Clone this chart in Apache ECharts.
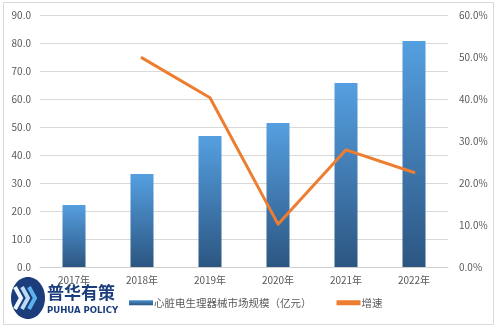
<!DOCTYPE html>
<html>
<head>
<meta charset="utf-8">
<script src="https://cdn.jsdelivr.net/npm/echarts@6/dist/echarts.min.js"></script>
<style>html,body{margin:0;padding:0;background:#fff;}#c{width:498px;height:328px;}</style>
</head>
<body>
<div id="c"></div>
<script>
var categories = ['2017年', '2018年', '2019年', '2020年', '2021年', '2022年'];
var marketSize = [22.1, 33.2, 46.8, 51.4, 65.7, 80.7];
var growth = [null, 49.8, 40.3, 10.2, 27.9, 22.5];
var leftTicks = { min: 0, max: 90, interval: 10 };
var rightTicks = { min: 0, max: 60, interval: 10 };
var seriesNames = ['心脏电生理器械市场规模（亿元）', '增速'];

var chart = echarts.init(document.getElementById('c'), null, { renderer: 'canvas' });
var font = '"Microsoft YaHei","Noto Sans CJK SC","DejaVu Sans",sans-serif';
var barGrad = new echarts.graphic.LinearGradient(0, 0, 0, 1, [
  { offset: 0, color: '#559fe0' },
  { offset: 1, color: '#2c5682' }
]);
var legendGrad = new echarts.graphic.LinearGradient(0, 0, 0, 1, [
  { offset: 0, color: '#4a8fd0' },
  { offset: 1, color: '#2c5682' }
]);

chart.setOption({
  animation: false,
  textStyle: { fontFamily: font },
  grid: { left: 40, right: 50, top: 15, bottom: 61, containLabel: false },
  legend: {
    bottom: 15,
    left: 124,
    itemGap: 25,
    itemWidth: 24,
    itemHeight: 5,
    textStyle: { color: '#595959', fontSize: 10.5, padding: [0, 0, 0, -4] },
    data: [
      { name: seriesNames[0], icon: 'rect', itemStyle: { color: legendGrad } },
      { name: seriesNames[1], icon: 'rect', itemStyle: { color: '#ED7D31' } }
    ]
  },
  xAxis: {
    type: 'category',
    data: categories,
    axisLine: { lineStyle: { color: '#d0d0d0', width: 1 } },
    axisTick: { show: false },
    axisLabel: { color: '#595959', fontSize: 10, margin: 8 }
  },
  yAxis: [
    {
      type: 'value', min: leftTicks.min, max: leftTicks.max, interval: leftTicks.interval,
      axisLine: { show: false }, axisTick: { show: false },
      axisLabel: { color: '#595959', fontSize: 10, margin: 9, formatter: function (v) { return v.toFixed(1); } },
      splitLine: { lineStyle: { color: '#d9d9d9', width: 1 } }
    },
    {
      type: 'value', min: rightTicks.min, max: rightTicks.max, interval: rightTicks.interval,
      axisLine: { show: false }, axisTick: { show: false },
      axisLabel: { color: '#595959', fontSize: 10, margin: 11, formatter: function (v) { return v.toFixed(1) + '%'; } },
      splitLine: { show: false }
    }
  ],
  series: [
    {
      name: seriesNames[0], type: 'bar', data: marketSize, barWidth: 23, yAxisIndex: 0,
      itemStyle: { color: barGrad }
    },
    {
      name: seriesNames[1], type: 'line', data: growth, yAxisIndex: 1,
      showSymbol: false, symbol: 'none',
      lineStyle: { color: '#ED7D31', width: 3, cap: 'round', join: 'round' },
      itemStyle: { color: '#ED7D31' }
    }
  ],
  graphic: [
    { type: 'rect', shape: { x: 3.5, y: 2.5, width: 490, height: 322 }, style: { fill: 'none', stroke: '#d9d9d9', lineWidth: 1 }, z: 1 },
    { type: 'ellipse', shape: { cx: 28, cy: 298, rx: 17, ry: 21 }, style: { fill: '#1b3d7c' }, z: 101 },
    { type: 'polyline', shape: { points: [[15, 287], [21, 298], [15, 309]] }, style: { stroke: '#eef6ff', lineWidth: 4, fill: 'none' }, z: 102 },
    { type: 'polyline', shape: { points: [[22, 287], [28, 298], [22, 309]] }, style: { stroke: '#b9ddf5', lineWidth: 4, fill: 'none' }, z: 102 },
    { type: 'polyline', shape: { points: [[29, 287], [35, 298], [29, 309]] }, style: { stroke: '#5cb2ea', lineWidth: 4, fill: 'none' }, z: 102 },
    { type: 'text', style: { x: 47, y: 293, text: '普华有策', fill: '#1b3d7c', font: 'bold 17px "Noto Sans CJK SC",sans-serif', textVerticalAlign: 'middle' }, z: 101 },
    { type: 'text', style: { x: 47, y: 311, text: 'PUHUA POLICY', fill: '#1b3d7c', font: 'bold 9.5px "Liberation Sans Narrow","DejaVu Sans Condensed",sans-serif', textVerticalAlign: 'middle' }, z: 101 }
  ]
});
</script>
</body>
</html>
